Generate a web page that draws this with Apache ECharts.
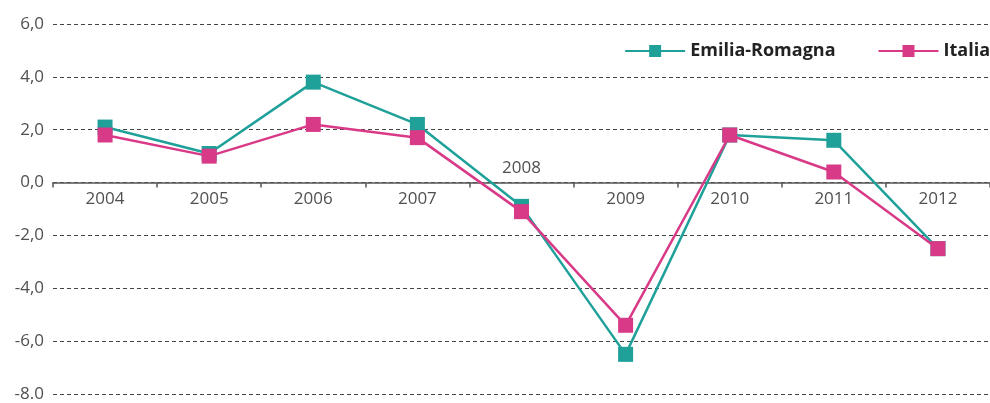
<!DOCTYPE html>
<html>
<head>
<meta charset="utf-8">
<script src="https://cdn.jsdelivr.net/npm/echarts@6/dist/echarts.min.js"></script>
<style>
  html, body { margin: 0; padding: 0; background: #fff; }
  #chart { width: 990px; height: 403px; }
</style>
</head>
<body>
<div id="chart"></div>
<script>
const years = ['2004', '2005', '2006', '2007', '2008', '2009', '2010', '2011', '2012']
const emiliaRomagna = [2.1, 1.1, 3.8, 2.2, -0.9, -6.5, 1.8, 1.6, -2.5]
const italia = [1.8, 1.0, 2.2, 1.7, -1.1, -5.4, 1.8, 0.4, -2.5]
const yTicks = [-8, -6, -4, -2, 0, 2, 4, 6]
const yTickLabels = ['-8.0', '-6,0', '-4,0', '-2,0', '0,0', '2,0', '4,0', '6,0']

const fontFamily = '"Open Sans", "Noto Sans", sans-serif'
const teal = '#1FA19A'
const pink = '#D93A87'

const chart = echarts.init(document.getElementById('chart'))

chart.setOption({
  animation: false,
  grid: {
    left: 53,
    right: 0,
    top: 24,
    bottom: 9,
    outerBoundsMode: 'none'
  },
  legend: {
    right: -5,
    top: 37,
    itemWidth: 60,
    itemHeight: 15,
    itemGap: 42,
    textStyle: {
      fontFamily: fontFamily,
      fontSize: 18,
      fontWeight: 'bold',
      color: '#222'
    },
    data: ['Emilia-Romagna', 'Italia']
  },
  xAxis: {
    type: 'category',
    position: 'bottom',
    boundaryGap: true,
    data: years.map(function (y) {
      // the 2008 label sits above the axis line in the original
      if (y === '2008') {
        return { value: y, textStyle: { verticalAlign: 'bottom', padding: [0, 0, 14, 0] } }
      }
      return y
    }),
    axisLine: {
      onZero: false,
      lineStyle: { color: '#555', width: 1.5 }
    },
    axisTick: {
      show: true,
      inside: false,
      length: 5,
      lineStyle: { color: '#555', width: 1.5 }
    },
    axisLabel: {
      margin: 8,
      fontFamily: fontFamily,
      fontSize: 17,
      color: '#505050'
    },
    splitLine: { show: false }
  },
  yAxis: {
    type: 'value',
    min: -8,
    max: 6,
    interval: 2,
    axisLine: { show: false, onZero: false },
    axisTick: { show: false },
    axisLabel: {
      margin: 9,
      fontFamily: fontFamily,
      fontSize: 17,
      color: '#505050',
      formatter: function (v) {
        const i = yTicks.indexOf(v)
        return i >= 0 ? yTickLabels[i] : ''
      }
    },
    splitLine: {
      show: true,
      lineStyle: {
        color: '#444',
        width: 1,
        type: [4, 3]
      }
    }
  },
  series: [
    {
      name: 'Emilia-Romagna',
      type: 'line',
      data: emiliaRomagna,
      symbol: 'rect',
      symbolSize: 15,
      itemStyle: { color: teal },
      lineStyle: { color: teal, width: 2.5 },
      z: 2
    },
    {
      name: 'Italia',
      type: 'line',
      data: italia,
      symbol: 'rect',
      symbolSize: 15,
      itemStyle: { color: pink },
      lineStyle: { color: pink, width: 2.5 },
      z: 3
    }
  ]
})

// v6 keeps category labels at the grid edge, so lift the whole x axis up to y = 0
const zeroY = chart.convertToPixel({ yAxisIndex: 0 }, 0)
const minY = chart.convertToPixel({ yAxisIndex: 0 }, yTicks[0])
chart.setOption({ xAxis: { offset: zeroY - minY } })
</script>
</body>
</html>
